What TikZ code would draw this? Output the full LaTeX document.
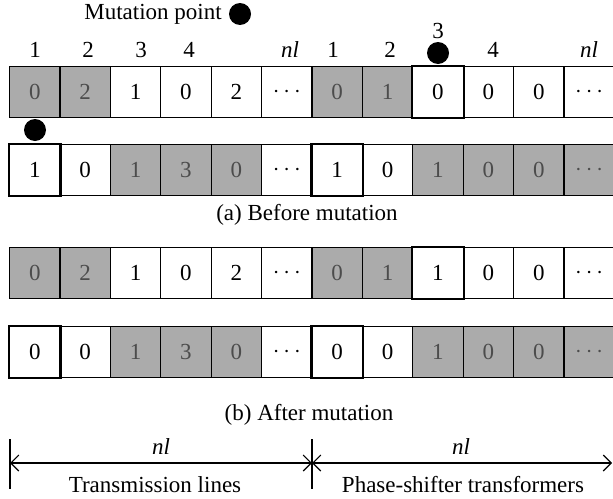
\documentclass[tikz,border=0pt]{standalone}
\usepackage{fontspec}
\setmainfont{Liberation Serif}
\usetikzlibrary{arrows.meta}
\begin{document}
\begin{tikzpicture}[x=0.5pt,y=-0.5pt, font=\fontsize{11.5}{13}\selectfont,
  cell/.style={draw, line width=0.55pt, minimum width=25.2pt, minimum height=25.5pt, inner sep=0pt, anchor=north west},
  shd/.style={cell, fill=black!33, text=black!70},
  wht/.style={cell, fill=white},
  thkbox/.style={draw, line width=1.1pt},
  dotmark/.style={fill=black, circle, inner sep=0pt, minimum size=11pt},
  lbl/.style={inner sep=0pt},
  dimline/.style={line width=0.55pt, {Straight Barb[length=4pt,width=8pt]}-{Straight Barb[length=4pt,width=8pt]}}]
\useasboundingbox (0,0) rectangle (613,498);
% Row 1
\foreach \st/\v [count=\i] in {shd/0,shd/2,wht/1,wht/0,wht/2,wht/$\cdots$,shd/0,shd/1,wht/0,wht/0,wht/0,wht/$\cdots$}
  {\node[\st] (r1c\i) at ({9+(\i-1)*50.4},66) {\v};}
% Row 2
\foreach \st/\v [count=\i] in {wht/1,wht/0,shd/1,shd/3,shd/0,wht/$\cdots$,wht/1,wht/0,shd/1,shd/0,shd/0,shd/$\cdots$}
  {\node[\st] (r2c\i) at ({9+(\i-1)*50.4},144) {\v};}
% Row 3
\foreach \st/\v [count=\i] in {shd/0,shd/2,wht/1,wht/0,wht/2,wht/$\cdots$,shd/0,shd/1,wht/1,wht/0,wht/0,wht/$\cdots$}
  {\node[\st] (r3c\i) at ({9+(\i-1)*50.4},247) {\v};}
% Row 4
\foreach \st/\v [count=\i] in {wht/0,wht/0,shd/1,shd/3,shd/0,wht/$\cdots$,wht/0,wht/0,shd/1,shd/0,shd/0,shd/$\cdots$}
  {\node[\st] (r4c\i) at ({9+(\i-1)*50.4},326) {\v};}
% thick borders
\foreach \n in {r1c9,r2c1,r2c7,r3c9,r4c1,r4c7}
  {\draw[thkbox] (\n.north west) rectangle (\n.south east);}
% header labels
\node[lbl] (h1) at (35,50) {1};
\node[lbl] (h2) at (88,50) {2};
\node[lbl] (h3) at (141,50) {3};
\node[lbl] (h4) at (189,50) {4};
\node[lbl] (h5) at (290,50) {\textit{nl}};
\node[lbl] (k1) at (333,50) {1};
\node[lbl] (k2) at (390,50) {2};
\node[lbl] (k3) at (438,31) {3};
\node[lbl] (k4) at (493,50) {4};
\node[lbl] (k5) at (589,50) {\textit{nl}};
% mutation markers
\node[lbl] (mp) at (153,14) {Mutation point};
\node[dotmark] (mpd) at (240,14) {};
\node[dotmark] (d1) at (438,53) {};
\node[dotmark] (d2) at (35,130) {};
% captions
\node[lbl] (capa) at (307,215) {(a) Before mutation};
\node[lbl] (capb) at (309,415) {(b) After mutation};
% dimension lines
\coordinate (b1t) at (10,439); \coordinate (b1b) at (10,489);
\coordinate (b2t) at (312,439); \coordinate (b2b) at (312,489);
\coordinate (a1) at (10,463); \coordinate (a2) at (312,463); \coordinate (a3) at (612,463);
\draw[line width=0.55pt] (b1t) -- (b1b);
\draw[line width=0.55pt] (b2t) -- (b2b);
\draw[dimline] (a1) -- (a2);
\draw[dimline] (a2) -- (a3);
\node[lbl] (nl1) at (161,447) {\textit{nl}};
\node[lbl] (nl2) at (461,447) {\textit{nl}};
\node[lbl] (tl) at (155,485) {Transmission lines};
\node[lbl] (ps) at (463,485) {Phase-shifter transformers};
\end{tikzpicture}
\end{document}
